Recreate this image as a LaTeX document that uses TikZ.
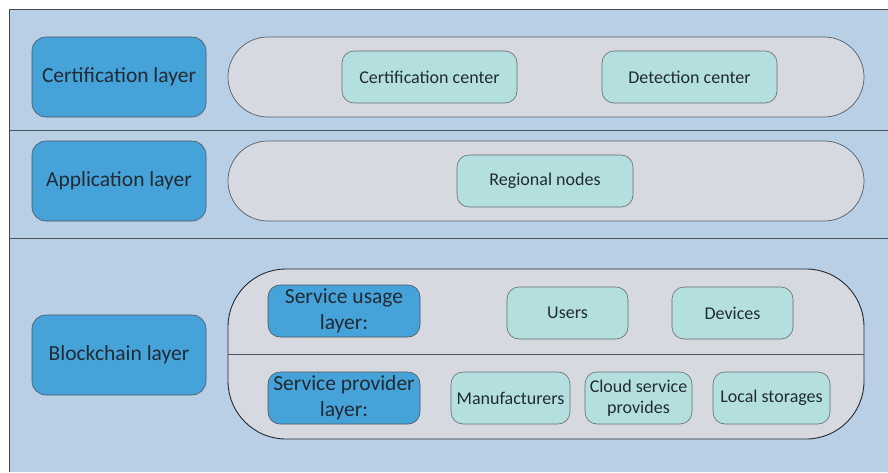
\documentclass[tikz,border=0pt]{standalone}
\usepackage{fontspec}
\setmainfont{Carlito}
\definecolor{bgblue}{HTML}{B8CFE6}
\definecolor{layblue}{HTML}{45A3DA}
\definecolor{pillgray}{HTML}{D6D9E0}
\definecolor{teal}{HTML}{B3E0DE}
\definecolor{ink}{HTML}{222A33}
\begin{document}
\begin{tikzpicture}[x=1pt,y=-1pt,
  layerbox/.style={draw=ink!80, line width=0.6pt, fill=layblue, rounded corners=14pt, text=ink, font=\fontsize{21.5}{26}\selectfont, align=center},
  subbox/.style={draw=ink!80, line width=0.6pt, fill=layblue, rounded corners=12pt, text=ink, font=\fontsize{21.5}{26}\selectfont, align=center, inner sep=0pt},
  itembox/.style={draw=ink!70, line width=0.6pt, fill=teal, rounded corners=12pt, text=ink, font=\fontsize{18}{20.5}\selectfont, align=center, inner sep=0pt},
  pill/.style={draw=ink!75, line width=0.7pt, fill=pillgray},
  sep/.style={draw=ink!80, line width=0.8pt}]
\useasboundingbox (0,0) rectangle (888,472);
% background frame
\fill[bgblue] (9,9) rectangle (888,472);
\draw[ink!85, line width=0.8pt] (888,9) -- (9,9) -- (9,472);
\draw[sep] (9,130) -- (888,130);
\draw[sep] (9,238) -- (888,238);
% pills
\draw[pill, rounded corners=39.9pt] (228,37) rectangle (864,117);
\draw[pill, rounded corners=39.9pt] (228,141) rectangle (864,221);
\draw[pill, draw=ink, line width=0.9pt, rounded corners=58pt] (228,269) rectangle (864,439);
\draw[sep] (228,354) -- (864,354);
% layer boxes
\node[layerbox, minimum width=174pt, minimum height=80pt] (cert) at (119,77) {Certification layer};
\node[layerbox, minimum width=174pt, minimum height=80pt] (app) at (119,181) {Application layer};
\node[layerbox, minimum width=174pt, minimum height=80pt] (bc) at (119,355) {Blockchain layer};
% items
\node[itembox, minimum width=175pt, minimum height=52pt] (cc) at (429.5,77) {Certification center};
\node[itembox, minimum width=175pt, minimum height=52pt] (dc) at (689.5,77) {Detection center};
\node[itembox, minimum width=176pt, minimum height=52pt] (rn) at (545,181) {Regional nodes};
\node[subbox, minimum width=152pt, minimum height=52pt] (su) at (344,311) {Service usage\\layer:};
\node[subbox, minimum width=152pt, minimum height=52pt] (sp) at (344,398) {Service provider\\layer:};
\node[itembox, minimum width=121pt, minimum height=52pt] (us) at (567.5,313) {Users};
\node[itembox, minimum width=121pt, minimum height=52pt] (dv) at (732.5,313) {Devices};
\node[itembox, minimum width=119pt, minimum height=52pt] (mf) at (510.5,398) {Manufacturers};
\node[itembox, minimum width=107pt, minimum height=52pt] (cs) at (638.5,398) {Cloud service\\provides};
\node[itembox, minimum width=117pt, minimum height=52pt] (ls) at (771.5,398) {Local storages};
\end{tikzpicture}
\end{document}
